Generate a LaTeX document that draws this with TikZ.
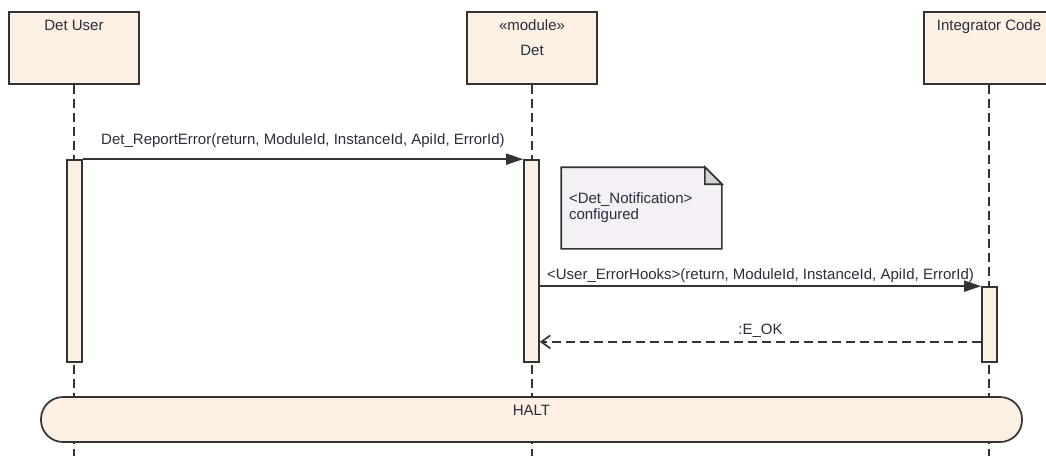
\documentclass[tikz,border=0pt]{standalone}
\usepackage{fontspec}
\setmainfont{Liberation Sans}
\usetikzlibrary{positioning, arrows.meta}
\definecolor{headfill}{HTML}{FBF0E1}
\definecolor{notefill}{HTML}{F4F0F5}
\definecolor{foldfill}{HTML}{D5D4D8}
\definecolor{linec}{HTML}{333333}
\definecolor{textc}{HTML}{2A2D3E}

\begin{document}
\begin{tikzpicture}[x=1pt, y=-1pt, line width=1.7pt,
		every node/.style={font=\fontsize{15}{16}\selectfont, text=textc, inner sep=0pt},
		head/.style={draw=linec, fill=headfill, minimum width=130pt, minimum height=72pt},
		bar/.style={draw=linec, fill=headfill, minimum width=15pt},
		lifeline/.style={draw=linec, dash pattern=on 9pt off 5pt},
		msg/.style={draw=linec, -{Triangle[length=17pt,width=11pt]}},
		reply/.style={draw=linec, dash pattern=on 9pt off 5pt, -{Straight Barb[length=9pt,width=13pt]}}]
		\useasboundingbox (0,0) rectangle (1046,456);
		
		\node[head] (user) at (74,48) {};
		\node[head] (det) at (532,48) {};
		\node[head] (integ) at (989,48) {};
		\node[below=8pt of user.north] (usertitle) {Det User};
		\node[below=8pt of det.north] (detstereo) {«module»};
		\node[below=12pt of detstereo] (dettitle) {Det};
		\node[below=8pt of integ.north] (integtitle) {Integrator Code};
		
		\draw[lifeline] (user.south) -- (user.south |- 0,456);
		\draw[lifeline] (det.south) -- (det.south |- 0,456);
		\draw[lifeline] (integ.south) -- (integ.south |- 0,456);
		
		\node[bar, minimum height=202pt] (userbar) at (74.5,261) {};
		\node[bar, minimum height=202pt] (detbar) at (531.5,261) {};
		\node[bar, minimum height=75pt] (integbar) at (989.5,324.5) {};
		
		\node[minimum width=159pt, minimum height=80pt] (note) at (641.5,208) {};
		\draw[draw=linec, fill=notefill] (note.north west) -- ([xshift=-17pt]note.north east) -- ([yshift=-17pt]note.north east) -- (note.south east) -- (note.south west) -- cycle;
		\draw[draw=linec, fill=foldfill] ([xshift=-17pt]note.north east) -- ([xshift=-17pt,yshift=-17pt]note.north east) -- ([yshift=-17pt]note.north east) -- cycle;
		\node[anchor=west, align=left] (notetext) at ([xshift=7pt,yshift=-40pt]note.north west) {<Det\_Notification>\\configured};
		
		\coordinate (okend) at ([yshift=21pt]integbar.south west);
		\path
		(userbar.north east) edge [msg] node [above=11pt] (reportlbl) {Det\_ReportError(return, ModuleId, InstanceId, ApiId, ErrorId)} (detbar.north west)
		(detbar.east |- integbar.north) edge [msg] node [above=3pt] (hooklbl) {<User\_ErrorHooks>(return, ModuleId, InstanceId, ApiId, ErrorId)} (integbar.north west);
		\draw[reply] (okend) -- (okend -| detbar.east) node [midway, above=4pt] (oklbl) {:E\_OK};
		
		\node[draw=linec, fill=headfill, rounded corners=22pt, minimum width=981pt, minimum height=45pt] (halt) at (531.5,419.5) {};
		\node[below=8pt of halt.north] (haltlbl) {HALT};
	\end{tikzpicture}
\end{document}
